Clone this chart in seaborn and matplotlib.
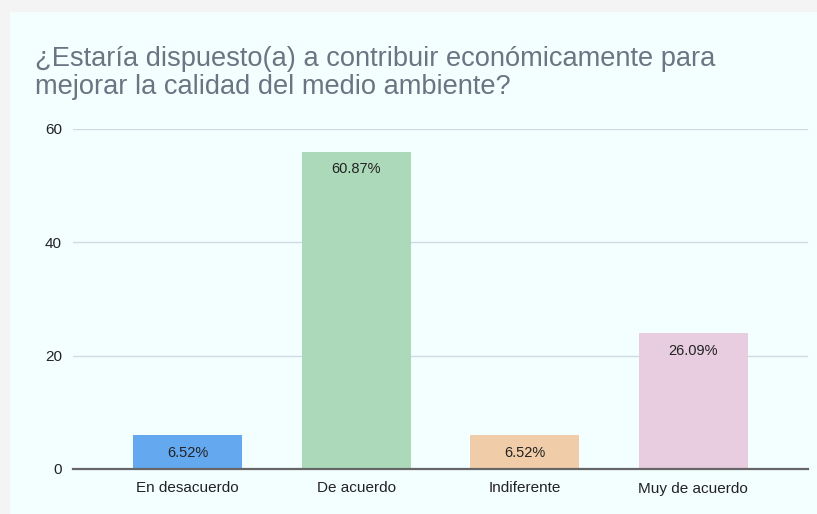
import matplotlib
matplotlib.use("Agg")
import matplotlib.pyplot as plt
import seaborn as sns
import pandas as pd
from matplotlib.patches import Rectangle

categories = ["En desacuerdo", "De acuerdo", "Indiferente", "Muy de acuerdo"]
values = [6, 56, 6, 24]
percent_labels = ["6.52%", "60.87%", "6.52%", "26.09%"]
bar_colors = ["#64a9f0", "#acd9b9", "#f0cda8", "#e8cce0"]
y_ticks = [0, 20, 40, 60]

title = "¿Estaría dispuesto(a) a contribuir económicamente para\nmejorar la calidad del medio ambiente?"

sns.set_style("white")
plt.rcParams['font.family'] = ['Liberation Sans', 'DejaVu Sans']

df = pd.DataFrame({"categoria": categories, "valor": values})

fig = plt.figure(figsize=(8.17, 5.14), dpi=100)
fig.patch.set_facecolor("#f4f4f4")
# light panel behind the chart
fig.patches.append(Rectangle((10 / 817, 0), 1, 1 - 12 / 514, transform=fig.transFigure,
                             facecolor="#f3fefe", edgecolor="none", zorder=-10))

ax = fig.add_axes([73 / 817, 1 - 469 / 514, (808 - 73) / 817, (469 - 129) / 514])
ax.set_facecolor("none")
ax.set_zorder(1)

sns.barplot(data=df, x="categoria", y="valor", hue="categoria", palette=bar_colors,
            legend=False, width=0.645, saturation=1, linewidth=0, ax=ax, zorder=3)

for i, (v, lab) in enumerate(zip(values, percent_labels)):
    ax.text(i, v - 3.1, lab, ha="center", va="center", fontsize=10.5, color="#222222", zorder=4)

ax.set_ylim(0, 60)
ax.set_xlim(-0.68, 3.68)
ax.set_yticks(y_ticks)
ax.yaxis.grid(True, color="#cfdbe2", linewidth=1)
ax.set_axisbelow(True)
for s in ["top", "right", "left"]:
    ax.spines[s].set_visible(False)
ax.spines["bottom"].set_color("#666666")
ax.spines["bottom"].set_linewidth(1.6)
ax.spines["bottom"].set_zorder(5)
ax.tick_params(axis="both", length=0, labelsize=11, colors="#222222")
ax.tick_params(axis="y", pad=8)
ax.tick_params(axis="x", pad=9)
ax.set_xlabel("")
ax.set_ylabel("")

fig.text(35 / 817, 1 - 46 / 514, title, ha="left", va="top", fontsize=19.6,
         color="#6b7482", linespacing=1.12)

fig.savefig("out.png", dpi=100, facecolor=fig.get_facecolor())
